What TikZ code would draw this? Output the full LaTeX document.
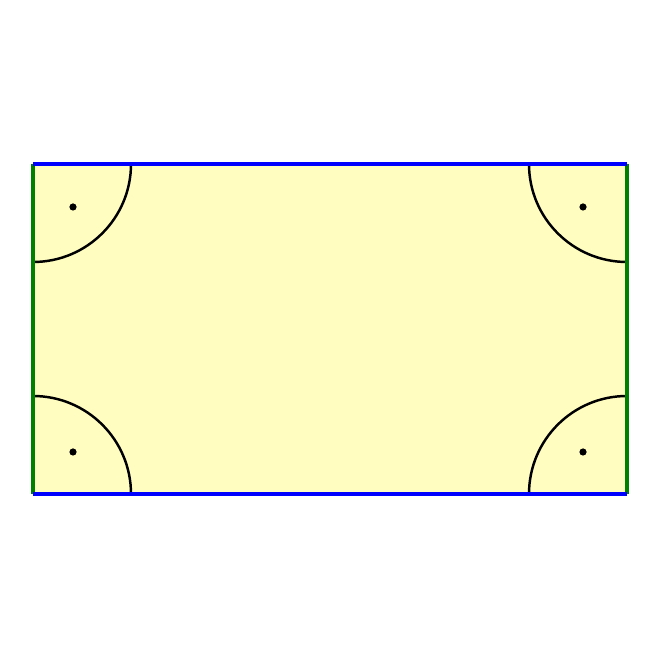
\documentclass[tikz,border=0pt]{standalone}
\usepackage{tikz}
\definecolor{paleyellow}{RGB}{255,253,192}
\definecolor{sidegreen}{RGB}{0,128,0}

\begin{document}
\begin{tikzpicture}[scale=0.2]
              \tikzstyle{every node}+=[inner sep=0pt]
              \useasboundingbox (-1.65,-8.3) rectangle (31.35,24.7);
              \coordinate (sw) at (0,0);
              \coordinate (se) at (29.7,0);
              \coordinate (ne) at (29.7,16.5);
              \coordinate (nw) at (0,16.5);
              \fill [paleyellow] (sw) rectangle (ne);
              \draw [black, line width=0.7pt] (nw) ++(4.9,0) arc (0:-90:4.9);
              \draw [black, line width=0.7pt] (ne) ++(-4.9,0) arc (180:270:4.9);
              \draw [black, line width=0.7pt] (sw) ++(4.9,0) arc (0:90:4.9);
              \draw [black, line width=0.7pt] (se) ++(-4.9,0) arc (180:90:4.9);
              \fill [black] (2,14.35) circle (0.18);
              \fill [black] (27.5,14.35) circle (0.18);
              \fill [black] (2,2.1) circle (0.18);
              \fill [black] (27.5,2.1) circle (0.18);
              \draw [sidegreen, line width=1.2pt] (sw) -- (nw);
              \draw [sidegreen, line width=1.2pt] (se) -- (ne);
              \draw [blue, line width=1.2pt] (nw) -- (ne);
              \draw [blue, line width=1.2pt] (sw) -- (se);
            \end{tikzpicture}
\end{document}
